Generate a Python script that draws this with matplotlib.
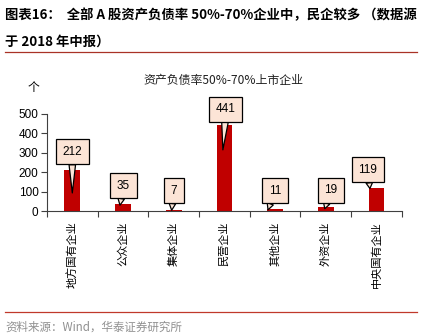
import matplotlib
matplotlib.use("Agg")
import matplotlib.pyplot as plt
from matplotlib.lines import Line2D

plt.rcParams['font.family'] = ['Liberation Sans', 'Noto Sans CJK SC', 'DejaVu Sans']

categories = ['地方国有企业', '公众企业', '集体企业', '民营企业', '其他企业', '外资企业', '中央国有企业']
values = [212, 35, 7, 441, 11, 19, 119]
y_ticks = [0, 100, 200, 300, 400, 500]

title = '资产负债率50%-70%上市企业'
header1 = '图表16：  全部 A 股资产负债率 50%-70%企业中，民企较多 （数据源'
header2 = '于 2018 年中报）'
footer = '资料来源：Wind，华泰证券研究所'

# callout layout (style): box offset in category units / pixels, tail target
box_dx = [0.0, 0.01, 0.0, 0.03, 0.0, 0.1, -0.17]
box_dy_px = [18, 18.5, 19, 16, 18, 17, 18]
tail_dx = [0.0, -0.06, -0.04, -0.03, -0.14, -0.02, -0.13]
tail_y = [93, 30, 4, 315, 6, 12, 116]

fig = plt.figure(figsize=(4.23, 3.36), dpi=100)
ax = fig.add_axes([0.111, 0.372, 0.839, 0.289])

x = list(range(len(categories)))
ax.bar(x, values, width=0.31, color='#C00000', zorder=2)
ax.set_xlim(-0.5, len(categories) - 0.5)
ax.set_ylim(0, 500)
ax.set_yticks(y_ticks)
ax.set_yticklabels([str(v) for v in y_ticks], fontsize=8.5)
ax.set_xticks([i + 0.5 for i in range(-1, len(categories))], minor=False)
ax.set_xticklabels([])
ax.tick_params(axis='x', direction='out', length=4, width=0.8, color='#404040')
ax.tick_params(axis='y', direction='out', length=4, width=0.8, color='#404040', pad=2)
for s in ['top', 'right']:
    ax.spines[s].set_visible(False)
for s in ['left', 'bottom']:
    ax.spines[s].set_color('#404040')
    ax.spines[s].set_linewidth(0.8)

for i, lab in enumerate(categories):
    ax.annotate(lab, xy=(i, 0), xycoords='data', xytext=(0, -10), textcoords='offset pixels',
                rotation=90, ha='center', va='top', fontsize=8,
                family=['Noto Sans CJK SC'])

px_per_unit = ax.bbox.height / 500.0
for i, v in enumerate(values):
    ty = v + box_dy_px[i] / px_per_unit
    ax.annotate(str(v), xy=(i + tail_dx[i], tail_y[i]), xycoords='data',
                xytext=(i + box_dx[i], ty), textcoords='data',
                ha='center', va='center', fontsize=8.5, annotation_clip=False,
                bbox=dict(boxstyle='square,pad=0.55', fc='#FCE4D6', ec='black', lw=0.9),
                arrowprops=dict(arrowstyle='wedge,tail_width=0.55,shrink_factor=0.5',
                                fc='#FCE4D6', ec='black', lw=0.9, shrinkA=0, shrinkB=0),
                zorder=5)

fig.text(0.528, 1 - 80 / 336, title, ha='center', va='center', fontsize=8.6,
         family=['Noto Sans CJK SC', 'Liberation Sans'], color='#202020')
fig.text(33 / 423, 1 - 87 / 336, '个', ha='center', va='center', fontsize=8.5,
         family=['Noto Sans CJK SC'])

fig.text(5 / 423, 1 - 15 / 336, header1, ha='left', va='center', fontsize=9.6,
         fontweight='bold', family=['Noto Sans CJK SC', 'Liberation Sans'])
fig.text(5 / 423, 1 - 42 / 336, header2, ha='left', va='center', fontsize=9.6,
         fontweight='bold', family=['Noto Sans CJK SC', 'Liberation Sans'])

fig.add_artist(Line2D([5 / 423, 417 / 423], [1 - 52 / 336, 1 - 52 / 336],
                      color='#A93226', lw=0.9, transform=fig.transFigure))
fig.add_artist(Line2D([5 / 423, 417 / 423], [1 - 312 / 336, 1 - 312 / 336],
                      color='#C0392B', lw=0.9, transform=fig.transFigure))
fig.text(5 / 423, 1 - 327 / 336, footer, ha='left', va='center', fontsize=8.3,
         color='#909090', family=['Noto Sans CJK SC', 'Liberation Sans'])

fig.savefig('out.png', dpi=100)
